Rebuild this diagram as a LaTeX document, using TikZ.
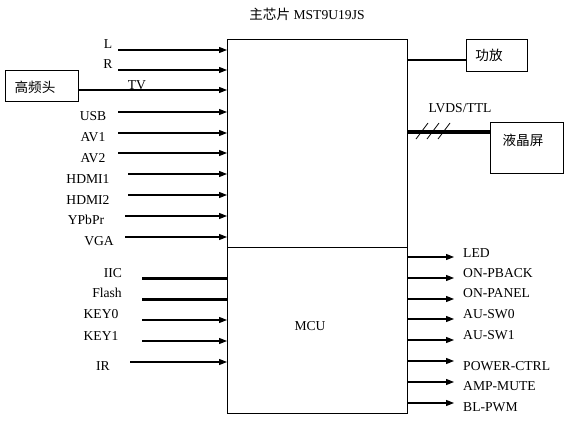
\documentclass[tikz,border=0pt]{standalone}
\usepackage{fontspec}
\setmainfont{Liberation Serif}
\newfontfamily\cjk{Noto Sans CJK SC}
\usetikzlibrary{arrows.meta}
\begin{document}
\begin{tikzpicture}[x=1pt,y=-1pt,
  font=\fontsize{13.6}{16}\selectfont,
  lbl/.style={inner sep=0pt},
  blk/.style={draw,line width=1pt,inner sep=0pt},
  arr/.style={line width=1.1pt,-{Triangle[length=8pt,width=6pt]}},
  bus/.style={line width=3pt},
  ]
\useasboundingbox (0,0) rectangle (567,421);
\fill[white] (0,0) rectangle (567,421);
% main chip
\node[blk,anchor=north west,minimum width=180pt,minimum height=208pt] (chip) at (227,39) {};
\node[blk,anchor=north west,minimum width=180pt,minimum height=166pt] (mcu) at (227,247) {};
\node[lbl] (mcutxt) at (310,326) {MCU};
\node[lbl] (title) at (307,14) {{\cjk 主芯片} MST9U19JS};
% tuner
\node[blk,anchor=north west,minimum width=73pt,minimum height=31pt] (tuner) at (5,70) {};
\node[lbl] (tunertxt) at (35,87) {\cjk 高频头};
% inputs (upper)
\foreach \n/\t/\lx/\ly/\sx/\y in {
  L/L/108/44/118/50,
  R/R/108/64/118/70,
  USB/USB/93/116/118/112,
  AVa/AV1/93/137/118/133,
  AVb/AV2/93/158/118/153,
  HDa/HDMI1/88/179/128/174,
  HDb/HDMI2/88/200/128/195,
  YP/YPbPr/86/220/125/216,
  VGA/VGA/99/241/125/237}{
  \node[lbl] (l\n) at (\lx,\ly) {\t};
  \coordinate (s\n) at (\sx,\y);
  \draw[arr] (s\n) -- (s\n -| chip.west);
}
\coordinate (sTV) at (tuner.east |- 0,90);
\node[lbl] (lTV) at (137,85) {TV};
\draw[arr] (sTV) -- (sTV -| chip.west);
% lower inputs
\node[lbl] (lIIC) at (113,273) {IIC};
\coordinate (sIIC) at (142,278);
\draw[bus] (sIIC) -- (sIIC -| mcu.west);
\node[lbl] (lFlash) at (107,293) {Flash};
\coordinate (sFlash) at (142,299);
\draw[bus] (sFlash) -- (sFlash -| mcu.west);
\foreach \n/\t/\lx/\ly/\sx/\y in {
  Ka/KEY0/101/314/142/320,
  Kb/KEY1/101/336/142/341,
  IR/IR/103/366/130/362}{
  \node[lbl] (l\n) at (\lx,\ly) {\t};
  \coordinate (s\n) at (\sx,\y);
  \draw[arr] (s\n) -- (s\n -| mcu.west);
}
% amp
\node[blk,anchor=north west,minimum width=61pt,minimum height=32pt] (amp) at (466,39) {};
\node[lbl] (amptxt) at (489,55) {\cjk 功放};
\coordinate (ampin) at (466,60);
\draw[line width=2pt] (chip.east |- ampin) -- (ampin -| amp.west);
% LCD
\node[blk,anchor=north west,minimum width=73pt,minimum height=51pt] (lcd) at (490,122) {};
\node[lbl] (lcdtxt) at (523,140) {\cjk 液晶屏};
\coordinate (lv) at (407,132);
\draw[line width=4pt] (lv) -- (lv -| lcd.west);
\foreach \x in {422,433,444}
  \draw[line width=0.8pt] (\x-6,139) -- (\x+6,123);
\node[lbl] (lvds) at (460,108) {LVDS/TTL};
% outputs
\foreach \n/\t/\y/\ly in {
  o1/LED/257/253,
  o2/ON-PBACK/278/273,
  o3/ON-PANEL/299/293,
  o4/AU-SW0/319/314,
  o5/AU-SW1/340/335,
  o6/POWER-CTRL/361/366,
  o7/AMP-MUTE/382/386,
  o8/BL-PWM/403/407}{
  \coordinate (e\n) at (454,\y);
  \draw[arr] (mcu.east |- e\n) -- (e\n);
  \node[lbl,anchor=west] (l\n) at (463,\ly) {\t};
}
\end{tikzpicture}
\end{document}
